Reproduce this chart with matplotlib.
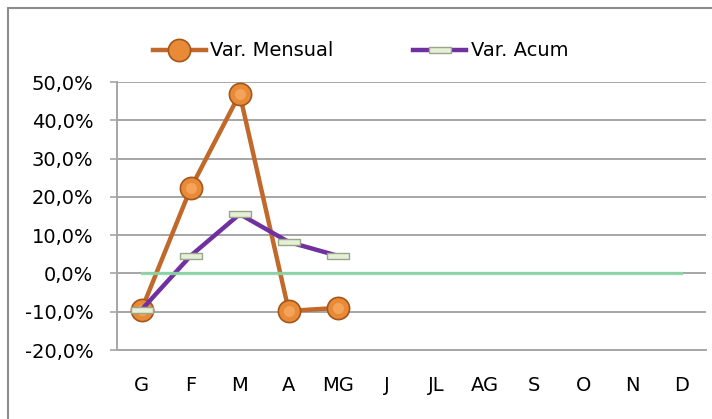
import matplotlib
matplotlib.use("Agg")
import matplotlib.pyplot as plt
from matplotlib.patches import Rectangle
from matplotlib.ticker import FuncFormatter

months = ["G", "F", "M", "A", "MG", "J", "JL", "AG", "S", "O", "N", "D"]
var_mensual = [-9.5, 22.2, 46.9, -9.8, -9.0]
var_acum = [-9.5, 4.6, 15.5, 8.2, 4.6]
zero_ref = [0.0, 0.0, 0.0, 0.0, 0.0, 0.0, 0.0, 0.0, 0.0, 0.0, 0.0, 0.0]
y_ticks = [-20, -10, 0, 10, 20, 30, 40, 50]

W, H = 712, 419
fig = plt.figure(figsize=(W / 100, H / 100), dpi=100)
plt.rcParams['font.family'] = ['DejaVu Sans']
ax = fig.add_axes([117 / W, 1 - 350 / H, (706 - 117) / W, (350 - 82) / H])

x = list(range(len(months)))
grid_c = "#A6A6A6"

ax.plot(x[:len(var_mensual)], var_mensual, color="#C0692A", lw=3.2, zorder=3,
        marker="o", markersize=16, markerfacecolor="#E98A36",
        markeredgecolor="#A4561C", markeredgewidth=1.2, label="Var. Mensual")
# soft highlight on spheres
ax.plot(x[:len(var_mensual)], var_mensual, ls="none", marker="o", markersize=8,
        markerfacecolor="#F3A45A", markeredgewidth=0, zorder=3.1)

rect_marker = [(-1, -0.3), (1, -0.3), (1, 0.3), (-1, 0.3), (-1, -0.3)]
ax.plot(x[:len(var_acum)], var_acum, color="#7030A0", lw=3.2, zorder=4,
        marker=rect_marker, markersize=16.5, markerfacecolor="#E6EFD8",
        markeredgecolor="#98A68A", markeredgewidth=1.0, label="Var. Acum")

ax.plot(x, zero_ref, color="#8CD6A8", lw=2.4, zorder=5, ls="-", alpha=0.9)

ax.set_xlim(-0.5, len(months) - 0.5)
ax.set_ylim(-20, 50)
ax.set_yticks(y_ticks)
ax.yaxis.set_major_formatter(FuncFormatter(lambda v, p: f"{v:.1f}%".replace(".", ",")))
ax.set_xticks(x)
ax.set_xticklabels(months)
ax.grid(axis="y", color=grid_c, lw=1.4, zorder=0)
ax.set_axisbelow(True)
for s in ["top", "right"]:
    ax.spines[s].set_visible(False)
ax.spines["left"].set_color(grid_c)
ax.spines["left"].set_linewidth(1.4)
ax.spines["bottom"].set_color(grid_c)
ax.spines["bottom"].set_linewidth(1.4)
ax.tick_params(axis="y", length=5, width=1.2, color=grid_c, pad=12, labelsize=14)
ax.tick_params(axis="x", length=0, pad=19, labelsize=14)

leg = fig.legend(loc="center left", bbox_to_anchor=(153 / W, 1 - 51 / H), ncol=2,
                 frameon=False, fontsize=14, handlelength=2.7, handletextpad=0.25,
                 columnspacing=4.1, borderpad=0, borderaxespad=0)

fig.patches.append(Rectangle((8 / W, -0.05), 1.05, 1 - 8 / H + 0.05,
                             transform=fig.transFigure, fill=False,
                             edgecolor="#8C8C8C", lw=1.5, zorder=0))

fig.savefig("out.png", dpi=100)
